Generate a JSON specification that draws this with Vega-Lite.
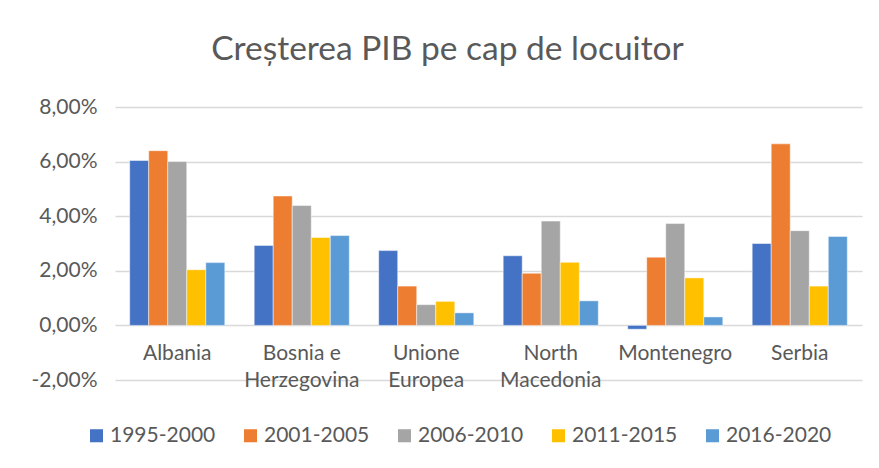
{
  "$schema": "https://vega.github.io/schema/vega-lite/v6.json",
  "autosize": {"type": "none"},
  "padding": {"left": 115, "top": 107, "right": 17, "bottom": 88},
  "width": 747,
  "height": 273,
  "background": "white",
  "config": {
    "font": "Lato",
    "view": {"stroke": null}
  },
  "title": {
    "text": "Creșterea PIB pe cap de locuitor",
    "font": "Lato",
    "fontSize": 33.5,
    "fontWeight": "normal",
    "color": "#595959",
    "anchor": "middle",
    "dx": -41,
    "offset": 29
  },
  "data": {
    "values": [
      {"country": "Albania", "period": "1995-2000", "value": 6.04},
      {"country": "Albania", "period": "2001-2005", "value": 6.40},
      {"country": "Albania", "period": "2006-2010", "value": 6.00},
      {"country": "Albania", "period": "2011-2015", "value": 2.04},
      {"country": "Albania", "period": "2016-2020", "value": 2.30},
      {"country": "Bosnia e Herzegovina", "period": "1995-2000", "value": 2.93},
      {"country": "Bosnia e Herzegovina", "period": "2001-2005", "value": 4.74},
      {"country": "Bosnia e Herzegovina", "period": "2006-2010", "value": 4.39},
      {"country": "Bosnia e Herzegovina", "period": "2011-2015", "value": 3.22},
      {"country": "Bosnia e Herzegovina", "period": "2016-2020", "value": 3.29},
      {"country": "Unione Europea", "period": "1995-2000", "value": 2.74},
      {"country": "Unione Europea", "period": "2001-2005", "value": 1.44},
      {"country": "Unione Europea", "period": "2006-2010", "value": 0.76},
      {"country": "Unione Europea", "period": "2011-2015", "value": 0.88},
      {"country": "Unione Europea", "period": "2016-2020", "value": 0.46},
      {"country": "North Macedonia", "period": "1995-2000", "value": 2.55},
      {"country": "North Macedonia", "period": "2001-2005", "value": 1.91},
      {"country": "North Macedonia", "period": "2006-2010", "value": 3.82},
      {"country": "North Macedonia", "period": "2011-2015", "value": 2.31},
      {"country": "North Macedonia", "period": "2016-2020", "value": 0.90},
      {"country": "Montenegro", "period": "1995-2000", "value": -0.14},
      {"country": "Montenegro", "period": "2001-2005", "value": 2.50},
      {"country": "Montenegro", "period": "2006-2010", "value": 3.73},
      {"country": "Montenegro", "period": "2011-2015", "value": 1.74},
      {"country": "Montenegro", "period": "2016-2020", "value": 0.31},
      {"country": "Serbia", "period": "1995-2000", "value": 3.00},
      {"country": "Serbia", "period": "2001-2005", "value": 6.65},
      {"country": "Serbia", "period": "2006-2010", "value": 3.47},
      {"country": "Serbia", "period": "2011-2015", "value": 1.44},
      {"country": "Serbia", "period": "2016-2020", "value": 3.26}
    ]
  },
  "mark": {"type": "bar", "stroke": "white", "strokeWidth": 0.8, "strokeOpacity": 0.6},
  "encoding": {
    "x": {
      "field": "country",
      "type": "nominal",
      "sort": ["Albania", "Bosnia e Herzegovina", "Unione Europea", "North Macedonia", "Montenegro", "Serbia"],
      "scale": {"paddingInner": 0.236, "paddingOuter": 0.118},
      "axis": {
        "title": null,
        "orient": "bottom",
        "offset": -54.6,
        "domain": false,
        "ticks": false,
        "labelAngle": 0,
        "labelFont": "Lato",
        "labelFontSize": 21,
        "labelColor": "#595959",
        "labelPadding": 17,
        "labelLineHeight": 27,
        "labelBaseline": "top",
        "labelExpr": "datum.label == 'Bosnia e Herzegovina' ? ['Bosnia e', 'Herzegovina'] : split(datum.label, ' ')"
      }
    },
    "xOffset": {
      "field": "period",
      "type": "nominal",
      "scale": {"paddingInner": 0, "paddingOuter": 0}
    },
    "y": {
      "field": "value",
      "type": "quantitative",
      "scale": {"domain": [-2, 8], "nice": false, "zero": false},
      "axis": {
        "title": null,
        "values": [-2, 0, 2, 4, 6, 8],
        "domain": false,
        "ticks": false,
        "grid": true,
        "gridColor": "#D9D9D9",
        "gridWidth": 1.5,
        "labelFont": "Lato",
        "labelFontSize": 21,
        "labelColor": "#595959",
        "labelPadding": 18,
        "labelExpr": "replace(replace(format(datum.value, '.2f'), '.', ','), '\u2212', '-') + '%'"
      }
    },
    "color": {
      "field": "period",
      "type": "nominal",
      "scale": {
        "domain": ["1995-2000", "2001-2005", "2006-2010", "2011-2015", "2016-2020"],
        "range": ["#4472C4", "#ED7D31", "#A5A5A5", "#FFC000", "#5B9BD5"]
      },
      "legend": {
        "title": null,
        "orient": "none",
        "direction": "horizontal",
        "legendX": -29,
        "legendY": 318,
        "symbolType": "square",
        "symbolSize": 170,
        "symbolStrokeWidth": 0,
        "symbolOpacity": 1,
        "labelFont": "Lato",
        "labelFontSize": 21,
        "labelColor": "#595959",
        "labelOffset": 3,
        "columnPadding": 24
      }
    }
  }
}
